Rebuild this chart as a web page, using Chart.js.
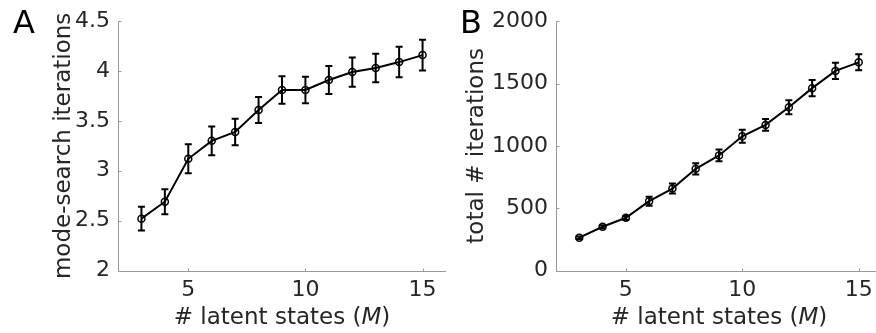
<!DOCTYPE html>
<html>
<head>
<meta charset="utf-8">
<script src="https://cdn.jsdelivr.net/npm/chart.js@4.4.1/dist/chart.umd.min.js"></script>
<style>
  html, body { margin: 0; padding: 0; background: #fff; }
  #wrap { position: relative; width: 876px; height: 333px; overflow: hidden; }
  canvas { position: absolute; top: 0; }
  #chartA { left: 0; }
  #chartB { left: 440px; }
</style>
</head>
<body>
<div id="wrap">
  <canvas id="chartA" width="460" height="333"></canvas>
  <canvas id="chartB" width="450" height="333"></canvas>
</div>
<script>
/* global Chart */

// data
var latentStates = [3, 4, 5, 6, 7, 8, 9, 10, 11, 12, 13, 14, 15];
var modeSearchMean = [2.52, 2.69, 3.12, 3.30, 3.39, 3.61, 3.81, 3.81, 3.91, 3.99, 4.03, 4.09, 4.16];
var modeSearchErr = [0.12, 0.125, 0.145, 0.145, 0.133, 0.13, 0.137, 0.132, 0.14, 0.147, 0.143, 0.153, 0.155];
var totalIterMean = [263, 351, 423, 556, 657, 816, 923, 1077, 1168, 1309, 1463, 1601, 1670];
var totalIterErr = [10, 12, 15, 36, 40, 45, 47, 52, 47, 56, 66, 65, 64];

var xTicks = [5, 10, 15];
var yTicksA = [2, 2.5, 3, 3.5, 4, 4.5];
var yTicksB = [0, 500, 1000, 1500, 2000];

var FONT = "'DejaVu Sans', sans-serif";
var TEXT = "#262626";
var AXIS = "#999999";
var TICK_SIZE = 22;
var TITLE_SIZE = 23;

var errorBarPlugin = {
  id: "errorBars",
  afterDatasetsDraw: function (chart, args, opts) {
    if (!opts.err) return;
    var ctx = chart.ctx, xs = chart.scales.x, ys = chart.scales.y;
    var cap = 3.5;
    ctx.save();
    ctx.strokeStyle = "#000";
    ctx.lineWidth = 2;
    opts.err.forEach(function (e, i) {
      var px = xs.getPixelForValue(latentStates[i]);
      var v = opts.mean[i];
      var t = ys.getPixelForValue(v + e);
      var b = ys.getPixelForValue(v - e);
      ctx.beginPath();
      ctx.moveTo(px, t); ctx.lineTo(px, b);
      ctx.moveTo(px - cap, t); ctx.lineTo(px + cap, t);
      ctx.moveTo(px - cap, b); ctx.lineTo(px + cap, b);
      ctx.stroke();
    });
    ctx.restore();
  }
};

var axesPlugin = {
  id: "matlabAxes",
  afterDraw: function (chart, args, opts) {
    var ctx = chart.ctx, a = chart.chartArea, xs = chart.scales.x, ys = chart.scales.y;
    ctx.save();
    // axis lines + inward ticks
    ctx.strokeStyle = AXIS;
    ctx.lineWidth = 1;
    var left = Math.round(a.left) + 0.5, bottom = Math.round(a.bottom) + 0.5;
    ctx.beginPath();
    ctx.moveTo(left, a.top); ctx.lineTo(left, bottom);
    ctx.lineTo(a.right, bottom);
    xs.ticks.forEach(function (t) {
      var px = Math.round(xs.getPixelForValue(t.value)) + 0.5;
      ctx.moveTo(px, bottom); ctx.lineTo(px, bottom - 3);
    });
    ys.ticks.forEach(function (t) {
      var py = Math.round(ys.getPixelForValue(t.value)) + 0.5;
      ctx.moveTo(left, py); ctx.lineTo(left + 3, py);
    });
    ctx.stroke();

    // x title with italic M
    var cx = (a.left + a.right) / 2, cy = 318;
    var p1 = "# latent states (", p2 = "M", p3 = ")";
    var up = TITLE_SIZE + "px " + FONT, it = "italic " + TITLE_SIZE + "px " + FONT;
    ctx.fillStyle = TEXT;
    ctx.textBaseline = "middle";
    ctx.textAlign = "left";
    ctx.font = up;
    var w1 = ctx.measureText(p1).width, w3 = ctx.measureText(p3).width;
    ctx.font = it;
    var w2 = ctx.measureText(p2).width;
    var x0 = cx - (w1 + w2 + w3) / 2;
    ctx.font = up;
    ctx.fillText(p1, x0, cy);
    ctx.font = it;
    ctx.fillText(p2, x0 + w1, cy);
    ctx.font = up;
    ctx.fillText(p3, x0 + w1 + w2, cy);

    // panel letter
    ctx.fillStyle = "#000";
    ctx.textBaseline = "alphabetic";
    ctx.font = "32px " + FONT;
    ctx.fillText(opts.letter, opts.letterX, 33);
    ctx.restore();
  }
};

function plainNum(v) { return String(v); }

function makeChart(id, cfg) {
  return new Chart(document.getElementById(id), {
    type: "line",
    data: {
      datasets: [{
        data: latentStates.map(function (m, i) { return { x: m, y: cfg.mean[i] }; }),
        borderColor: "#000",
        borderWidth: 2,
        pointRadius: 3.5,
        pointBorderWidth: 1.5,
        pointBorderColor: "#000",
        pointBackgroundColor: "rgba(0,0,0,0)",
        tension: 0,
        clip: false
      }]
    },
    options: {
      responsive: false,
      animation: false,
      layout: { padding: { top: 20, left: 0, right: cfg.padRight, bottom: 0 } },
      scales: {
        x: {
          type: "linear",
          min: 2, max: 16,
          grid: { display: false, drawTicks: false },
          border: { display: false },
          afterBuildTicks: function (s) { s.ticks = xTicks.map(function (v) { return { value: v }; }); },
          afterFit: function (s) { s.height = 62.5; },
          ticks: { color: TEXT, font: { family: FONT, size: TICK_SIZE }, padding: 7, maxRotation: 0, callback: plainNum }
        },
        y: {
          type: "linear",
          min: cfg.yTicks[0], max: cfg.yTicks[cfg.yTicks.length - 1],
          grid: { display: false, drawTicks: false },
          border: { display: false },
          afterBuildTicks: function (s) { s.ticks = cfg.yTicks.map(function (v) { return { value: v }; }); },
          afterFit: function (s) { s.width = cfg.axisLeft; },
          ticks: { color: TEXT, font: { family: FONT, size: TICK_SIZE }, padding: 8, callback: plainNum },
          title: {
            display: true,
            text: cfg.yTitle,
            color: TEXT,
            font: { family: FONT, size: TITLE_SIZE },
            padding: { top: cfg.titlePad, bottom: 0 }
          }
        }
      },
      plugins: {
        legend: { display: false },
        tooltip: { enabled: false },
        errorBars: { mean: cfg.mean, err: cfg.err },
        matlabAxes: { letter: cfg.letter, letterX: cfg.letterX }
      }
    },
    plugins: [errorBarPlugin, axesPlugin]
  });
}

makeChart("chartA", {
  mean: modeSearchMean, err: modeSearchErr, yTicks: yTicksA,
  yTitle: "mode-search iterations", axisLeft: 118, padRight: 14, titlePad: 50,
  letter: "A", letterX: 13
});
makeChart("chartB", {
  mean: totalIterMean, err: totalIterErr, yTicks: yTicksB,
  yTitle: "total # iterations", axisLeft: 116, padRight: 8, titlePad: 23,
  letter: "B", letterX: 20
});
</script>
</body>
</html>
